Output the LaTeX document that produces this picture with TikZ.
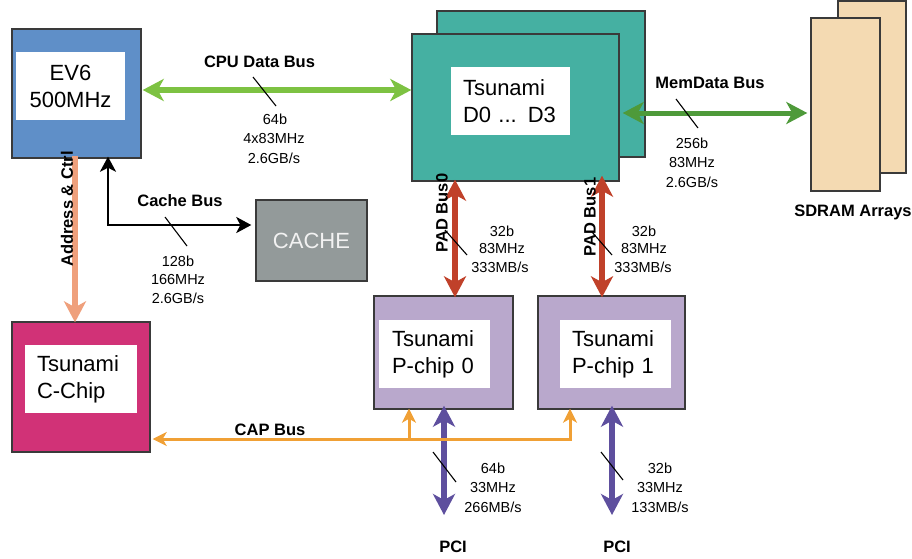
\documentclass[tikz,border=0pt]{standalone}
\usepackage{fontspec}
\setmainfont{Liberation Sans}
\usetikzlibrary{arrows.meta,calc}
\definecolor{boxline}{HTML}{3A3A3A}
\definecolor{ev6blue}{HTML}{5F8FC8}
\definecolor{cpugreen}{HTML}{7DC242}
\definecolor{dteal}{HTML}{45B0A2}
\definecolor{memgreen}{HTML}{4E9A3A}
\definecolor{sdpeach}{HTML}{F4DAB2}
\definecolor{cachegray}{HTML}{939A9A}
\definecolor{cmag}{HTML}{D13277}
\definecolor{plav}{HTML}{B9A8CC}
\definecolor{padred}{HTML}{C0412A}
\definecolor{caporange}{HTML}{F0A035}
\definecolor{addrsalmon}{HTML}{EFA07C}
\definecolor{pcipurple}{HTML}{5E4F9E}
\tikzset{
  bigtip/.tip={Stealth[length=21pt,width=22pt,inset=6pt]},
  midtip/.tip={Stealth[length=15pt,width=16pt,inset=4pt]},
  smalltip/.tip={Stealth[length=14pt,width=14pt,inset=4pt]},
  chip/.style={draw=boxline,line width=1.4pt,inner sep=0pt,anchor=center},
  whitebox/.style={fill=white,inner ysep=0pt,anchor=center,
    font=\fontsize{22}{27}\selectfont,minimum height=68pt},
  lbl/.style={align=center,inner sep=0pt,font=\fontsize{14.5}{19}\selectfont},
  blbl/.style={inner sep=0pt,font=\fontsize{16.5}{20}\selectfont\bfseries},
  tick/.style={line width=1.1pt,black},
}
\begin{document}
\begin{tikzpicture}[x=1pt,y=-1pt]
\useasboundingbox (0,0) rectangle (912,558);
% boxes
\node[chip,fill=ev6blue,minimum width=129pt,minimum height=129pt] (ev6) at (76.5,93.5) {};
\node[whitebox,minimum width=109pt,text width=85pt,align=center] (ev6in) at (70.5,86) {EV6\\500MHz};
\node[chip,fill=dteal,minimum width=208pt,minimum height=146pt] (dback) at (541,84) {};
\node[chip,fill=dteal,minimum width=207pt,minimum height=147pt] (dfront) at (515.5,107.5) {};
\node[whitebox,inner xsep=12pt,text width=95pt,align=left] (din) at (510.5,101) {Tsunami\\D0 ... D3};
\node[chip,fill=sdpeach,minimum width=68pt,minimum height=172pt] (sdback) at (872,87) {};
\node[chip,fill=sdpeach,minimum width=69pt,minimum height=173pt] (sdfront) at (845.5,104.5) {};
\node[chip,fill=cachegray,minimum width=111pt,minimum height=81pt,
      text=white!95!black,font=\fontsize{22}{27}\selectfont] (cache) at (311.5,240.5) {CACHE};
\node[chip,fill=cmag,minimum width=138pt,minimum height=130pt] (cchip) at (81,387) {};
\node[whitebox,inner xsep=12pt,text width=88pt,align=left] (cin) at (81,379) {Tsunami\\C-Chip};
\node[chip,fill=plav,minimum width=139pt,minimum height=113pt] (pchip0) at (443.5,352.5) {};
\node[whitebox,inner xsep=13pt,text width=85pt,align=left] (p0in) at (434.5,354) {Tsunami\\P-chip 0};
\node[chip,fill=plav,minimum width=147pt,minimum height=113pt] (pchip1) at (611.5,352.5) {};
\node[whitebox,inner xsep=12pt,text width=87pt,align=left] (p1in) at (615.5,354) {Tsunami\\P-chip 1};

% helper coordinates
\coordinate (cpuy) at (0,90);
\coordinate (memy) at (0,113);
\coordinate (cachex) at (108,0);
\coordinate (cachey) at (0,225);
\coordinate (addrx) at (75,0);
\coordinate (pad0x) at (455,0);
\coordinate (pad1x) at (602,0);
\coordinate (pci0x) at (444,0);
\coordinate (pci1x) at (612,0);
\coordinate (capy) at (0,439);
\coordinate (cap0x) at (409,0);
\coordinate (cap1x) at (570,0);
\coordinate (pci0end) at (444,515);
\coordinate (pci1end) at (612,515);

% CPU data bus
\draw[cpugreen,line width=5.5pt,bigtip-bigtip] ([xshift=1pt]ev6.east |- cpuy) -- (dfront.west |- cpuy);
% MemData bus
\draw[memgreen,line width=5pt,bigtip-bigtip] ([xshift=3pt]dfront.east |- memy) -- ([xshift=-3pt]sdfront.west |- memy);
% Cache bus
\draw[black,line width=2.6pt,midtip-midtip,line join=miter]
  ([yshift=2pt]ev6.south -| cachex) |- ([xshift=-4pt]cache.west |- cachey);
% Address & Ctrl
\draw[addrsalmon,line width=5.5pt,-bigtip] ([yshift=3pt]ev6.south -| addrx) -- ([yshift=-1pt]cchip.north -| addrx);
% PAD buses
\draw[padred,line width=6pt,bigtip-bigtip] ([yshift=2pt]dfront.south -| pad0x) -- ([yshift=-2pt]pchip0.north -| pad0x);
\draw[padred,line width=6pt,bigtip-bigtip] ([yshift=6pt]dfront.south -| pad1x) -- ([yshift=-2pt]pchip1.north -| pad1x);
% PCI
\draw[pcipurple,line width=6pt,bigtip-bigtip] ([yshift=4pt]pchip0.south -| pci0x) -- (pci0end);
\draw[pcipurple,line width=6pt,bigtip-bigtip] ([yshift=4pt]pchip1.south -| pci1x) -- (pci1end);
% CAP bus
\draw[caporange,line width=3pt,smalltip-smalltip,line join=miter]
  ([yshift=1pt]pchip1.south -| cap1x) -- (cap1x |- capy) -- ([xshift=2pt]cchip.east |- capy);
\draw[caporange,line width=3pt,-smalltip] (cap0x |- capy) -- ([yshift=1pt]pchip0.south -| cap0x);

% ticks
\draw[tick] (253,77) -- (276,106);
\draw[tick] (165,217) -- (187,246);
\draw[tick] (676,99) -- (698,128);
\draw[tick] (445,230) -- (467,255);
\draw[tick] (592,232) -- (612,255);
\draw[tick] (433,452) -- (456,482);
\draw[tick] (601,452) -- (623,480);

% labels
\node[blbl] (lcpu) at (259.5,62) {CPU Data Bus};
\node[lbl] (lcpu1) at (275,119) {64b};
\node[lbl] (lcpu2) at (274,139) {4x83MHz};
\node[lbl] (lcpu3) at (274,158) {2.6GB/s};
\node[blbl] (lcache) at (180,201) {Cache Bus};
\node[lbl] (lc1) at (178,261) {128b};
\node[lbl] (lc2) at (178,279) {166MHz};
\node[lbl] (lc3) at (178,298) {2.6GB/s};
\node[blbl] (lmem) at (710,83) {MemData Bus};
\node[lbl] (lm1) at (692,143) {256b};
\node[lbl] (lm2) at (692,163) {83MHz};
\node[lbl] (lm3) at (692,182) {2.6GB/s};
\node[blbl] (lsd) at (853,212) {SDRAM Arrays};
\node[lbl] (lp01) at (502,231) {32b};
\node[lbl] (lp02) at (502,248) {83MHz};
\node[lbl] (lp03) at (500,267) {333MB/s};
\node[lbl] (lp11) at (644,231) {32b};
\node[lbl] (lp12) at (644,248) {83MHz};
\node[lbl] (lp13) at (643,267) {333MB/s};
\node[lbl] (lq01) at (493,468) {64b};
\node[lbl] (lq02) at (493,487) {33MHz};
\node[lbl] (lq03) at (493,507) {266MB/s};
\node[lbl] (lq11) at (660,468) {32b};
\node[lbl] (lq12) at (660,487) {33MHz};
\node[lbl] (lq13) at (660,507) {133MB/s};
\node[blbl] (lpci0) at (453,547) {PCI};
\node[blbl] (lpci1) at (617,547) {PCI};
\node[blbl] (lcap) at (270,430) {CAP Bus};
\node[blbl,rotate=90] (laddr) at (67,209) {Address \& Ctrl};
\node[blbl,rotate=90] (lpad0) at (442,213) {PAD Bus0};
\node[blbl,rotate=90] (lpad1) at (590,217) {PAD Bus1};
\end{tikzpicture}
\end{document}
